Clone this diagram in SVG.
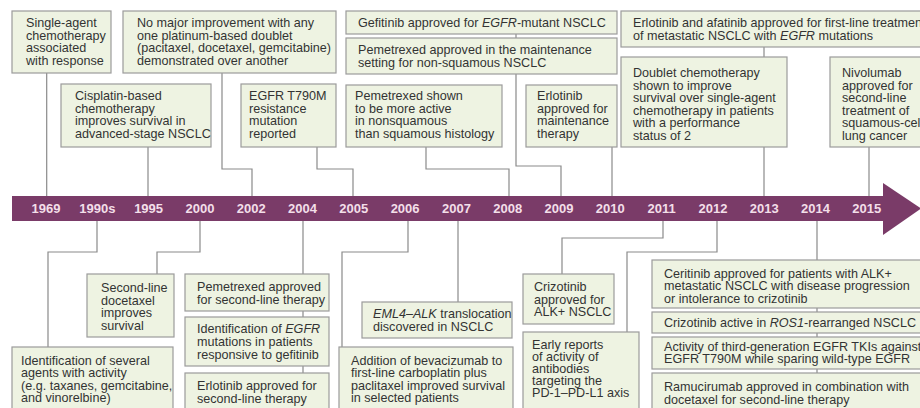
<svg xmlns="http://www.w3.org/2000/svg" width="920" height="408" viewBox="0 0 920 408">
<style>
.box{fill:#eef3e2;stroke:#9b9b9b;stroke-width:1.2}
.t{font-family:"Liberation Sans",Arial,sans-serif;font-size:12.6px;fill:#333}
.yr{font-family:"Liberation Sans",Arial,sans-serif;font-size:13px;font-weight:bold;fill:#f3dfe9;text-anchor:middle}
.c{fill:none;stroke:#8a8a8a;stroke-width:1.2}
.bar{fill:#7a3b68}
</style>
<rect width="920" height="408" fill="#ffffff"/>
<g id="connectors">
<path class="c" d="M46.7,73V196"/>
<path class="c" d="M148,147V196"/>
<path class="c" d="M222,73V169H252V196"/>
<path class="c" d="M317,147V169H353V196"/>
<path class="c" d="M516,34V38"/>
<path class="c" d="M426,147V169H509V196"/>
<path class="c" d="M516,74V166H561V196"/>
<path class="c" d="M612,147V196"/>
<path class="c" d="M764,47V57"/>
<path class="c" d="M764,147V196"/>
<path class="c" d="M869,147V196"/>
<path class="c" d="M97,221V252H48V347"/>
<path class="c" d="M200,221V252H157V274"/>
<path class="c" d="M303,221V274M303,311V317M303,366V373"/>
<path class="c" d="M408,221V252H342V347"/>
<path class="c" d="M458,221V302"/>
<path class="c" d="M663,221V238H562V274"/>
<path class="c" d="M717,221V252H627V332"/>
<path class="c" d="M817,221V260M817,308V312M817,333V337M817,369V373"/>
</g>
<g id="timeline">
<rect class="bar" x="12" y="196" width="872" height="25"/>
<polygon class="bar" points="883,183 921,208.5 883,235"/>
<text class="yr" x="46" y="213">1969</text>
<text class="yr" x="97.3" y="213">1990s</text>
<text class="yr" x="148.6" y="213">1995</text>
<text class="yr" x="199.9" y="213">2000</text>
<text class="yr" x="251.2" y="213">2002</text>
<text class="yr" x="302.5" y="213">2004</text>
<text class="yr" x="353.8" y="213">2005</text>
<text class="yr" x="405.1" y="213">2006</text>
<text class="yr" x="456.4" y="213">2007</text>
<text class="yr" x="507.7" y="213">2008</text>
<text class="yr" x="559" y="213">2009</text>
<text class="yr" x="610.3" y="213">2010</text>
<text class="yr" x="661.6" y="213">2011</text>
<text class="yr" x="712.9" y="213">2012</text>
<text class="yr" x="764.2" y="213">2013</text>
<text class="yr" x="815.5" y="213">2014</text>
<text class="yr" x="866.8" y="213">2015</text>
</g>
<g id="n1969">
<rect class="box" x="12" y="11" width="99" height="62"/>
<text class="t"><tspan x="26" y="27">Single-agent</tspan><tspan x="26" y="39.5">chemotherapy</tspan><tspan x="26" y="52">associated</tspan><tspan x="26" y="64.5">with response</tspan></text>
</g>
<g id="n2002">
<rect class="box" x="123" y="11" width="213" height="62"/>
<text class="t"><tspan x="137" y="27">No major improvement with any</tspan><tspan x="137" y="39.5">one platinum-based doublet</tspan><tspan x="137" y="52">(pacitaxel, docetaxel, gemcitabine)</tspan><tspan x="137" y="64.5">demonstrated over another</tspan></text>
</g>
<g id="n1995">
<rect class="box" x="61" y="84" width="150" height="63"/>
<text class="t"><tspan x="75" y="100">Cisplatin-based</tspan><tspan x="75" y="112.5">chemotherapy</tspan><tspan x="75" y="125">improves survival in</tspan><tspan x="75" y="137.5">advanced-stage NSCLC</tspan></text>
</g>
<g id="n2005">
<rect class="box" x="241" y="84" width="95" height="63"/>
<text class="t"><tspan x="249" y="100">EGFR T790M</tspan><tspan x="249" y="112.5">resistance</tspan><tspan x="249" y="125">mutation</tspan><tspan x="249" y="137.5">reported</tspan></text>
</g>
<g id="n2009a">
<rect class="box" x="346" y="11" width="271" height="23"/>
<text class="t" x="358" y="27">Gefitinib approved for <tspan font-style="italic">EGFR</tspan>-mutant NSCLC</text>
</g>
<g id="n2009b">
<rect class="box" x="346" y="38" width="271" height="36"/>
<text class="t"><tspan x="358" y="54">Pemetrexed approved in the maintenance</tspan><tspan x="358" y="67">setting for non-squamous NSCLC</tspan></text>
</g>
<g id="n2008">
<rect class="box" x="346" y="85" width="156" height="62"/>
<text class="t"><tspan x="355" y="100">Pemetrexed shown</tspan><tspan x="355" y="112.5">to be more active</tspan><tspan x="355" y="125">in nonsquamous</tspan><tspan x="355" y="137.5">than squamous histology</tspan></text>
</g>
<g id="n2010">
<rect class="box" x="526" y="85" width="91" height="62"/>
<text class="t"><tspan x="537" y="100">Erlotinib</tspan><tspan x="537" y="112.5">approved for</tspan><tspan x="537" y="125">maintenance</tspan><tspan x="537" y="137.5">therapy</tspan></text>
</g>
<g id="n2013a">
<rect class="box" x="621" y="11" width="310" height="36"/>
<text class="t"><tspan x="633" y="27">Erlotinib and afatinib approved for first-line treatment</tspan><tspan x="633" y="40">of metastatic NSCLC with <tspan font-style="italic">EGFR</tspan> mutations</tspan></text>
</g>
<g id="n2013b">
<rect class="box" x="621" y="57" width="166" height="90"/>
<text class="t"><tspan x="633" y="77">Doublet chemotherapy</tspan><tspan x="633" y="89.6">shown to improve</tspan><tspan x="633" y="102.2">survival over single-agent</tspan><tspan x="633" y="114.8">chemotherapy in patients</tspan><tspan x="633" y="127.4">with a performance</tspan><tspan x="633" y="140">status of 2</tspan></text>
</g>
<g id="n2015">
<rect class="box" x="830" y="57" width="101" height="90"/>
<text class="t"><tspan x="842" y="77">Nivolumab</tspan><tspan x="842" y="89.6">approved for</tspan><tspan x="842" y="102.2">second-line</tspan><tspan x="842" y="114.8">treatment of</tspan><tspan x="842" y="127.4">squamous-cell</tspan><tspan x="842" y="140">lung cancer</tspan></text>
</g>
<g id="n1990s">
<rect class="box" x="12" y="347" width="161" height="68"/>
<text class="t"><tspan x="21" y="365">Identification of several</tspan><tspan x="21" y="377.3">agents with activity</tspan><tspan x="21" y="389.6">(e.g. taxanes, gemcitabine,</tspan><tspan x="21" y="402">and vinorelbine)</tspan></text>
</g>
<g id="n2000">
<rect class="box" x="87" y="274" width="87" height="63"/>
<text class="t"><tspan x="101" y="292">Second-line</tspan><tspan x="101" y="304.5">docetaxel</tspan><tspan x="101" y="317">improves</tspan><tspan x="101" y="329.5">survival</tspan></text>
</g>
<g id="n2004a">
<rect class="box" x="185" y="274" width="144" height="37"/>
<text class="t"><tspan x="197" y="291">Pemetrexed approved</tspan><tspan x="197" y="304">for second-line therapy</tspan></text>
</g>
<g id="n2004b">
<rect class="box" x="185" y="317" width="144" height="49"/>
<text class="t"><tspan x="197" y="333">Identification of <tspan font-style="italic">EGFR</tspan></tspan><tspan x="197" y="346">mutations in patients</tspan><tspan x="197" y="359">responsive to gefitinib</tspan></text>
</g>
<g id="n2004c">
<rect class="box" x="185" y="373" width="144" height="42"/>
<text class="t"><tspan x="197" y="390">Erlotinib approved for</tspan><tspan x="197" y="402.5">second-line therapy</tspan></text>
</g>
<g id="n2006">
<rect class="box" x="339" y="347" width="174" height="68"/>
<text class="t"><tspan x="351" y="365">Addition of bevacizumab to</tspan><tspan x="351" y="377.3">first-line carboplatin plus</tspan><tspan x="351" y="389.6">paclitaxel improved survival</tspan><tspan x="351" y="402">in selected patients</tspan></text>
</g>
<g id="n2007">
<rect class="box" x="362" y="302" width="150" height="36"/>
<text class="t"><tspan x="373" y="318"><tspan font-style="italic">EML4–ALK</tspan> translocation</tspan><tspan x="373" y="331">discovered in NSCLC</tspan></text>
</g>
<g id="n2011">
<rect class="box" x="523" y="274" width="91" height="50"/>
<text class="t"><tspan x="534" y="291">Crizotinib</tspan><tspan x="534" y="303.5">approved for</tspan><tspan x="534" y="316">ALK+ NSCLC</tspan></text>
</g>
<g id="n2012">
<rect class="box" x="523" y="332" width="116" height="83"/>
<text class="t"><tspan x="532" y="348.5">Early reports</tspan><tspan x="532" y="360.7">of activity of</tspan><tspan x="532" y="372.9">antibodies</tspan><tspan x="532" y="385.1">targeting the</tspan><tspan x="532" y="397.3">PD-1–PD-L1 axis</tspan></text>
</g>
<g id="n2014a">
<rect class="box" x="652" y="260" width="279" height="48"/>
<text class="t"><tspan x="664" y="277.5">Ceritinib approved for patients with ALK+</tspan><tspan x="664" y="290">metastatic NSCLC with disease progression</tspan><tspan x="664" y="302.5">or intolerance to crizotinib</tspan></text>
</g>
<g id="n2014b">
<rect class="box" x="652" y="312" width="279" height="21"/>
<text class="t" x="664" y="326.5">Crizotinib active in <tspan font-style="italic">ROS1</tspan>-rearranged NSCLC</text>
</g>
<g id="n2014c">
<rect class="box" x="652" y="337" width="279" height="32"/>
<text class="t"><tspan x="664" y="350.5">Activity of third-generation EGFR TKIs against</tspan><tspan x="664" y="363">EGFR T790M while sparing wild-type EGFR</tspan></text>
</g>
<g id="n2014d">
<rect class="box" x="652" y="373" width="279" height="42"/>
<text class="t"><tspan x="664" y="391">Ramucirumab approved in combination with</tspan><tspan x="664" y="403.5">docetaxel for second-line therapy</tspan></text>
</g>
</svg>
